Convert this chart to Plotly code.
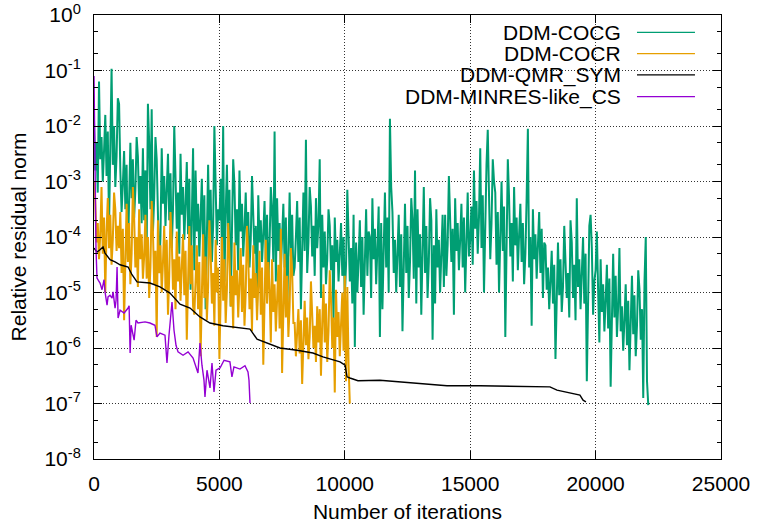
import plotly.graph_objects as go

# ---------------- data ----------------
# Residuals are stored as their base-10 exponent.
series_names = ["DDM-COCG", "DDM-COCR", "DDM-QMR_SYM", "DDM-MINRES-like_CS"]
series_colors = ["#009e73", "#e69f00", "#000000", "#9400d3"]

# DDM-COCG: one sample every 50 iterations, 0 .. 22100
cocg_iter = list(range(0, 22101, 50))
cocg_log10 = [
    -1.9, -2.8, -2.3, -3.2, -1.2, -2.6, -2.2, -3.0, -2.45, -1.8, -2.9, -2.1, -3.8, -2.4, -0.97, -2.7, -2.0, -3.1, -2.55, -1.5,
    -1.6, -2.8, -3.55, -3.05, -2.45, -3.5, -2.7, -4.4, -2.95, -2.3, -3.3, -2.6, -3.65, -3.15, -2.2, -2.55, -3.4, -2.9, -3.75, -2.4,
    -3.7, -2.8, -4.2, -1.6, -2.3, -3.5, -1.7, -3.9, -3.3, -2.2, -2.6, -3.6, -4.6, -4.0, -2.4, -3.4, -2.9, -3.8, -3.2, -2.5,
    -3.7, -2.85, -4.2, -3.5, -2.0, -2.75, -3.85, -3.2, -4.3, -2.5, -3.6, -3.1, -4.05, -3.4, -2.65, -3.95, -2.95, -4.95, -3.3, -2.4,
    -4.6, -2.8, -3.9, -3.4, -4.35, -3.7, -2.95, -4.25, -3.25, -5.3, -3.6, -2.7, -4.0, -3.15, -4.45, -3.8, -2.0, -3.05, -4.15, -3.5,
    -3.7, -2.95, -4.25, -2.0, -4.8, -3.6, -2.7, -4.0, -3.15, -5.25, -3.8, -2.6, -3.05, -4.15, -3.5, -4.6, -2.8, -3.9, -3.4, -4.35,
    -3.85, -3.2, -4.2, -3.55, -4.55, -4.05, -2.9, -3.45, -4.3, -3.8, -5.25, -3.25, -4.1, -3.7, -4.45, -3.95, -3.35, -4.4, -3.6, -4.8,
    -4.15, -3.1, -3.5, -4.45, -2.1, -4.8, -3.3, -4.25, -3.75, -4.6, -4.05, -3.4, -4.55, -3.65, -5.4, -3.95, -3.2, -4.35, -3.6, -4.7,
    -4.55, -4.0, -3.35, -4.45, -3.65, -5.3, -3.9, -3.2, -4.25, -2.25, -4.65, -4.1, -3.1, -3.45, -4.35, -3.8, -4.7, -3.3, -4.2, -3.75,
    -2.6, -5.1, -3.6, -4.55, -3.9, -4.85, -4.4, -3.5, -3.8, -4.6, -4.15, -5.5, -3.65, -4.45, -4.05, -4.8, -4.3, -3.75, -4.7, -4.0,
    -5.1, -4.5, -3.15, -3.8, -4.8, -4.2, -5.2, -3.6, -5.98, -4.1, -5.0, -4.4, -3.7, -4.9, -4.0, -5.4, -4.3, -3.5, -4.7, -3.9,
    -4.0, -5.1, -3.3, -4.4, -3.85, -4.85, -4.2, -3.45, -5.8, -3.75, -5.3, -4.1, -3.2, -4.55, -3.65, -5.0, -1.87, -3.1, -3.55, -4.65,
    -4.05, -5.0, -4.35, -3.6, -4.9, -3.95, -5.7, -4.25, -3.4, -4.65, -3.8, -5.1, -4.45, -3.3, -3.7, -4.75, -2.8, -5.2, -3.5, -4.55,
    -3.95, -5.4, -4.25, -3.1, -4.65, -3.8, -5.1, -4.45, -3.3, -3.7, -5.85, -4.15, -5.2, -3.5, -4.55, -4.05, -5.0, -4.35, -3.6, -4.9,
    -3.6, -4.7, -4.15, -2.9, -3.5, -4.45, -3.85, -5.4, -3.3, -4.25, -3.75, -4.6, -4.05, -3.4, -4.55, -3.65, -5.0, -3.95, -3.2, -4.35,
    -4.05, -3.45, -4.5, -2.8, -3.85, -3.35, -4.3, -3.65, -2.4, -4.2, -3.25, -5.0, -3.55, -2.7, -2.07, -3.15, -4.4, -3.75, -2.6, -3.0,
    -3.2, -4.5, -3.55, -5.0, -3.85, -3.0, -4.25, -3.45, -5.8, -4.05, -2.6, -3.3, -4.35, -3.75, -4.8, -3.1, -4.15, -3.65, -4.6, -3.95,
    -3.4, -4.45, -3.75, -4.85, -4.3, -3.3, -2.05, -4.55, -4.0, -5.6, -3.5, -4.4, -3.95, -4.75, -4.2, -3.55, -4.65, -3.85, -5.1, -4.1,
    -4.15, -4.95, -4.55, -5.3, -4.8, -4.25, -5.2, -4.5, -6.2, -4.7, -4.1, -5.05, -4.4, -5.35, -4.9, -3.8, -4.3, -5.1, -4.65, -5.45,
    -3.7, -4.1, -5.1, -4.5, -5.5, -3.3, -4.9, -4.4, -5.3, -4.7, -4.0, -5.2, -4.3, -6.6, -4.6, -3.8, -3.6, -4.2, -5.4, -4.8,
    -4.6, -3.9, -4.95, -5.9, -4.4, -5.35, -4.85, -5.7, -5.15, -4.5, -5.65, -4.75, -6.7, -5.05, -4.3, -5.45, -4.7, -5.8, -5.25, -4.2,
    -5.7, -5.25, -6.05, -5.5, -4.85, -5.95, -5.15, -6.4, -5.4, -4.7, -5.75, -5.05, -6.15, -5.6, -4.6, -4.95, -5.85, -5.3, -6.9, -4.8,
    -4.0, -6.6, -7.03,
]

# DDM-COCR: one sample every 50 iterations, 0 .. 10200
cocr_iter = list(range(0, 10201, 50))
cocr_log10 = [
    -3.0, -3.35, -4.1, -3.75, -4.4, -3.95, -3.1, -4.3, -3.65, -5.0, -3.9, -3.3, -4.2, -3.6, -4.5, -4.05, -3.2, -3.5, -4.25, -3.8,
    -4.2, -3.55, -4.65, -3.85, -5.5, -4.1, -3.4, -4.45, -3.75, -4.85, -4.3, -3.1, -3.65, -4.55, -4.0, -4.9, -3.5, -4.4, -3.95, -4.75,
    -4.35, -3.6, -4.75, -4.0, -5.1, -4.55, -3.35, -3.9, -4.85, -4.25, -5.8, -3.7, -4.65, -4.15, -5.0, -4.45, -3.8, -4.95, -4.05, -5.4,
    -4.7, -3.55, -4.05, -4.95, -4.4, -5.3, -3.9, -4.8, -4.35, -5.15, -4.6, -3.95, -5.05, -4.25, -5.85, -4.5, -3.8, -4.85, -4.15, -5.25,
    -5.4, -4.8, -4.15, -5.3, -4.45, -6.15, -4.75, -3.95, -5.1, -4.35, -5.5, -4.9, -3.7, -4.25, -5.2, -4.65, -5.6, -4.05, -5.0, -4.55,
    -6.2, -4.8, -4.0, -5.15, -4.4, -5.55, -4.95, -3.75, -4.3, -5.25, -4.7, -5.65, -4.1, -5.05, -4.6, -5.45, -4.9, -4.2, -5.35, -4.5,
    -5.6, -5.0, -3.8, -4.35, -5.3, -4.75, -5.7, -4.15, -5.1, -4.65, -5.5, -4.95, -4.25, -5.4, -4.55, -6.3, -4.85, -4.05, -5.2, -4.45,
    -4.95, -5.9, -4.4, -5.35, -4.85, -5.7, -5.15, -4.5, -5.65, -3.85, -6.45, -5.05, -4.3, -5.45, -4.7, -5.8, -5.25, -4.2, -4.6, -5.55,
    -5.55, -6.15, -5.75, -5.3, -6.1, -5.5, -6.65, -5.7, -5.15, -5.95, -5.45, -6.2, -5.8, -4.8, -5.35, -6.0, -5.6, -6.25, -5.25, -5.9,
    -5.3, -6.5, -5.55, -4.85, -5.9, -5.2, -6.25, -5.7, -4.6, -5.1, -6.0, -5.45, -6.8, -4.95, -5.8, -5.35, -6.15, -5.65, -5.0, -6.05,
    -4.7, -6.6, -4.9, -6.3, -7.0,
]

# DDM-QMR_SYM (smooth, nearly monotone)
qmr_iter = [0, 120, 240, 360, 440, 640, 840, 1040, 1360, 1515, 1715, 2230, 2630,
            3030, 3430, 3830, 4225, 4625, 5145, 6220, 6500, 6900, 7415, 8095,
            8730, 9130, 9810, 10010, 10090, 10205, 10525, 11400, 12720, 14075,
            15390, 18180, 18460, 19375, 19500, 19615]
qmr_log10 = [-4.2, -4.27, -4.23, -4.18, -4.29, -4.41, -4.45, -4.5, -4.54, -4.68,
             -4.81, -4.83, -4.9, -5.01, -5.21, -5.28, -5.44, -5.55, -5.6, -5.66,
             -5.84, -5.91, -6.0, -6.04, -6.09, -6.16, -6.25, -6.31, -6.52, -6.54,
             -6.59, -6.58, -6.63, -6.68, -6.68, -6.7, -6.76, -6.85, -6.94, -6.97]

# DDM-MINRES-like_CS
minres_iter = [0, 40, 80, 120, 240, 320, 400, 440, 520, 560, 640, 720, 760, 840,
               880, 920, 960, 1040, 1200, 1360, 1400, 1440, 1480, 1600, 1675, 1755,
               2035, 2230, 2430, 2510, 2630, 2830, 2910, 2990, 3110, 3190, 3270,
               3350, 3550, 3750, 3950, 4145, 4225, 4305, 4385, 4425, 4505, 4625,
               4705, 4785, 4865, 5025, 5185, 5420, 5500, 5580, 5820, 6020, 6140,
               6180, 6220]
minres_log10 = [-1.1, -2.97, -4.23, -4.74, -4.83, -4.95, -4.77, -4.99, -5.23, -5.08,
                -5.05, -5.1, -4.99, -5.28, -5.14, -4.54, -5.46, -5.32, -5.37, -5.28,
                -5.24, -6.09, -5.59, -5.86, -5.5, -5.55, -5.53, -5.55, -5.59, -5.8,
                -5.73, -5.77, -6.27, -5.77, -5.17, -5.68, -5.95, -6.07, -6.13, -6.07,
                -6.18, -6.45, -5.91, -6.31, -6.58, -6.88, -6.4, -6.72, -6.27, -6.79,
                -6.4, -6.36, -6.22, -6.25, -6.52, -6.34, -6.38, -6.32, -6.43, -6.58,
                -6.99]

x_tick_vals = [0, 5000, 10000, 15000, 20000, 25000]
x_tick_text = ["0", "5000", "10000", "15000", "20000", "25000"]
y_tick_vals = [1e-8, 1e-7, 1e-6, 1e-5, 1e-4, 1e-3, 1e-2, 1e-1, 1e0]
y_tick_text = ["10<sup>-8</sup>", "10<sup>-7</sup>", "10<sup>-6</sup>", "10<sup>-5</sup>",
               "10<sup>-4</sup>", "10<sup>-3</sup>", "10<sup>-2</sup>", "10<sup>-1</sup>",
               "10<sup>0</sup>"]

# ---------------- figure ----------------
FONT = "Liberation Sans, Arial, Helvetica, sans-serif"
fig = go.Figure()

all_x = [cocg_iter, cocr_iter, qmr_iter, minres_iter]
all_e = [cocg_log10, cocr_log10, qmr_log10, minres_log10]
widths = [2.0, 2.0, 1.4, 1.4]
for name, col, xs, es, w in zip(series_names, series_colors, all_x, all_e, widths):
    n = min(len(xs), len(es))
    ys = [10.0 ** e for e in es[:n]]
    fig.add_trace(go.Scatter(x=xs[:n], y=ys, mode="lines", name=name,
                             line=dict(color=col, width=w), showlegend=False,
                             hoverinfo="skip"))

# gnuplot-style key: right-aligned text with the sample line on its right
row_y = [0.961, 0.913, 0.865, 0.816]
for name, col, yy in zip(series_names, series_colors, row_y):
    fig.add_annotation(x=0.8437, y=yy, xref="paper", yref="paper", text=name,
                       showarrow=False, xanchor="right", yanchor="middle",
                       font=dict(family=FONT, size=21, color="black"))
    fig.add_shape(type="line", xref="paper", yref="paper", x0=0.866, x1=0.9585,
                  y0=yy, y1=yy, line=dict(color=col, width=1.3))

grid_style = dict(showgrid=True, gridcolor="#333333", griddash="1px,2px", gridwidth=1)
fig.update_xaxes(range=[0, 25000], tickvals=x_tick_vals, ticktext=x_tick_text,
                 ticks="inside", ticklen=8, tickcolor="black", showline=True,
                 linecolor="black", linewidth=1, mirror="allticks", zeroline=False,
                 ticklabelstandoff=6, automargin=False,
                 tickfont=dict(family=FONT, size=21, color="black"),
                 title=dict(text="Number of iterations", standoff=10,
                            font=dict(family=FONT, size=21, color="black")),
                 **grid_style)
fig.update_yaxes(type="log", range=[-8, 0], tickvals=y_tick_vals, ticktext=y_tick_text,
                 ticks="inside", ticklen=8, tickcolor="black", showline=True,
                 linecolor="black", linewidth=1, mirror="allticks", zeroline=False,
                 ticklabelstandoff=8, automargin=False,
                 minor=dict(ticks="inside", ticklen=4, tickcolor="black", showgrid=False),
                 tickfont=dict(family=FONT, size=21, color="black"),
                 title=dict(text="Relative residual norm", standoff=12,
                            font=dict(family=FONT, size=21, color="black")),
                 **grid_style)
fig.update_layout(width=757, height=529, margin=dict(l=94, r=36, t=15, b=70, autoexpand=False),
                  plot_bgcolor="white", paper_bgcolor="white",
                  font=dict(family=FONT, size=21, color="black"))

fig.write_html("out.html", config={"displayModeBar": False},
               post_script="document.body.style.margin='0';")
